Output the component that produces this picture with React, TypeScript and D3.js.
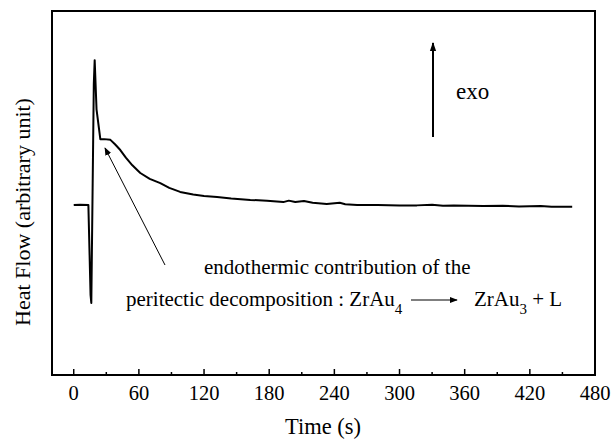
import React from "react";
import * as d3 from "d3";

// Data (time in s, heat flow in arbitrary units)
const times = [0, 6, 13.5, 15.5, 16.2, 18.5, 19.3, 21, 24.5, 28, 33.8, 38, 42.9, 48, 54, 61.3, 70, 79.7, 88, 98, 110, 120, 132, 145, 162.6, 178, 193, 198, 204, 212, 220, 233, 245, 250, 261, 280, 300, 316, 330, 340, 350, 377, 395, 410, 430, 440, 459];
const heat = [46.7, 46.8, 46.7, 22, 19.8, 80, 86.5, 73, 64.8, 64.8, 64.6, 63.4, 61.8, 59.7, 57.6, 55.5, 53.9, 52.7, 51.4, 50.3, 49.6, 49.2, 48.9, 48.5, 48.1, 47.9, 47.5, 47.9, 47.5, 47.8, 47.3, 47.0, 47.3, 46.9, 46.7, 46.7, 46.6, 46.6, 46.8, 46.5, 46.6, 46.4, 46.5, 46.3, 46.4, 46.2, 46.2];

const xTickValues = [0, 60, 120, 180, 240, 300, 360, 420, 480];
const xMinorValues = [30, 90, 150, 210, 270, 330, 390, 450];

const FONT = "'Liberation Serif', 'Times New Roman', serif";

export default function App() {
  const W = 612, H = 440;
  const left = 52, right = 595, top = 11, bottom = 375;
  const x = d3.scaleLinear().domain([-20, 480]).range([left, right]);
  const y = d3.scaleLinear().domain([0, 100]).range([bottom, top]);
  const pts = times.map((t, i) => [t, heat[i]] as [number, number]);
  const line = d3.line<[number, number]>().x(d => x(d[0])).y(d => y(d[1]));

  return (
    <svg width={W} height={H} style={{ position: "absolute", left: 0, top: 0, background: "#fff" }} fontFamily={FONT}>
      <defs>
        <marker id="ah" viewBox="0 0 10 10" refX="9" refY="5" markerWidth="8" markerHeight="8" markerUnits="userSpaceOnUse" orient="auto">
          <path d="M0,1 L10,5 L0,9 Z" fill="#000" />
        </marker>
        <marker id="ah2" viewBox="0 0 10 10" refX="9" refY="5" markerWidth="9" markerHeight="9" markerUnits="userSpaceOnUse" orient="auto">
          <path d="M0,1.5 L10,5 L0,8.5 Z" fill="#000" />
        </marker>
      </defs>
      <rect x={left} y={top} width={right - left} height={bottom - top} fill="none" stroke="#000" strokeWidth={2} />
      {xTickValues.map(v => (
        <g key={"t" + v}>
          <line x1={x(v)} x2={x(v)} y1={bottom} y2={bottom - 6} stroke="#000" strokeWidth={1.5} />
          <text x={x(v)} y={400} textAnchor="middle" fontSize={20.5}>{v}</text>
        </g>
      ))}
      {xMinorValues.map(v => (
        <line key={"m" + v} x1={x(v)} x2={x(v)} y1={bottom} y2={bottom - 3} stroke="#000" strokeWidth={1.5} />
      ))}
      <text x={323} y={434} textAnchor="middle" fontSize={22.5}>Time (s)</text>
      <text transform="translate(30,212) rotate(-90)" textAnchor="middle" fontSize={22}>Heat Flow (arbitrary unit)</text>

      <path d={line(pts) || ""} fill="none" stroke="#000" strokeWidth={2} strokeLinejoin="round" />

      {/* exo arrow */}
      <line x1={433} y1={137} x2={433} y2={43} stroke="#000" strokeWidth={2} markerEnd="url(#ah2)" />
      <text x={456} y={99} fontSize={23}>exo</text>

      {/* annotation */}
      <line x1={165} y1={265} x2={105} y2={148} stroke="#000" strokeWidth={1} markerEnd="url(#ah)" />
      <text x={204} y={274} fontSize={21}>endothermic contribution of the</text>
      <text x={126} y={306} fontSize={21}>
        peritectic decomposition : ZrAu<tspan dy={8} fontSize={15}>4</tspan>
      </text>
      <line x1={411} y1={300} x2={457} y2={300} stroke="#000" strokeWidth={1.2} markerEnd="url(#ah)" />
      <text x={474} y={306} fontSize={21}>
        ZrAu<tspan dy={8} fontSize={15}>3</tspan><tspan dy={-8}> + L</tspan>
      </text>
    </svg>
  );
}
